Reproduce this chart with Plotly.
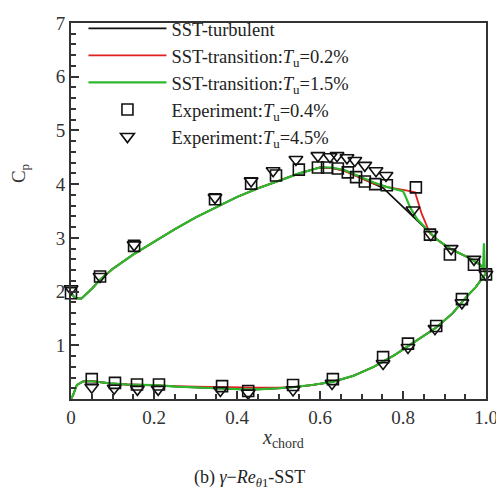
import plotly.graph_objects as go

# ---------------- data ----------------
# upper surface, SST-transition Tu=1.5% (green)
xu_green = [0, 0.01, 0.025, 0.05, 0.07, 0.1, 0.15, 0.2, 0.25, 0.3, 0.35, 0.4, 0.45, 0.5, 0.55,
            0.6, 0.63, 0.66, 0.7, 0.73, 0.76, 0.79, 0.8, 0.805, 0.817, 0.834, 0.858, 0.88,
            0.913, 0.94, 0.961, 0.986, 0.993, 0.995, 0.997, 1.0]
yu_green = [1.97, 1.88, 1.87, 2.05, 2.22, 2.42, 2.69, 2.93, 3.16, 3.38, 3.57, 3.76, 3.92, 4.06, 4.2,
            4.31, 4.31, 4.26, 4.13, 4.03, 3.95, 3.89, 3.87, 3.79, 3.57, 3.35, 3.15, 2.98,
            2.80, 2.70, 2.62, 2.50, 2.43, 2.90, 2.40, 2.35]
# upper surface, SST-transition Tu=0.2% (red)
xu_red = [0, 0.01, 0.025, 0.05, 0.07, 0.1, 0.15, 0.2, 0.25, 0.3, 0.35, 0.4, 0.45, 0.5, 0.55,
          0.6, 0.63, 0.66, 0.7, 0.73, 0.76, 0.79, 0.81, 0.829, 0.845, 0.865, 0.88,
          0.913, 0.94, 0.961, 0.986, 1.0]
yu_red = [1.97, 1.88, 1.87, 2.05, 2.22, 2.42, 2.69, 2.93, 3.16, 3.38, 3.57, 3.76, 3.92, 4.06, 4.2,
          4.31, 4.30, 4.24, 4.10, 4.01, 3.95, 3.90, 3.88, 3.85, 3.45, 3.08, 2.98,
          2.80, 2.70, 2.62, 2.50, 2.35]
# upper surface, SST-turbulent (black)
xu_black = [0, 0.01, 0.025, 0.05, 0.07, 0.1, 0.15, 0.2, 0.25, 0.3, 0.35, 0.4, 0.45, 0.5, 0.55,
            0.6, 0.63, 0.66, 0.7, 0.73, 0.752, 0.858, 0.88, 0.913, 0.94, 0.961, 0.986, 1.0]
yu_black = [1.97, 1.88, 1.87, 2.05, 2.22, 2.42, 2.69, 2.93, 3.16, 3.38, 3.57, 3.76, 3.92, 4.06, 4.2,
            4.31, 4.30, 4.25, 4.11, 4.02, 3.93, 3.15, 2.98, 2.80, 2.70, 2.62, 2.50, 2.35]

# lower surface
xl = [0, 0.005, 0.014, 0.03, 0.053, 0.094, 0.135, 0.2, 0.255, 0.3, 0.35, 0.415, 0.45, 0.5, 0.535,
      0.58, 0.63, 0.68, 0.73, 0.78, 0.83, 0.88, 0.92, 0.955, 0.975, 0.99, 1.0]
yl_green = [0.0, 0.07, 0.26, 0.33, 0.33, 0.29, 0.27, 0.26, 0.23, 0.21, 0.20, 0.18, 0.18, 0.20, 0.22,
            0.26, 0.32, 0.43, 0.60, 0.82, 1.07, 1.33, 1.60, 1.92, 2.08, 2.25, 2.34]
yl_red = [0.0, 0.07, 0.26, 0.33, 0.33, 0.29, 0.27, 0.26, 0.24, 0.23, 0.22, 0.22, 0.21, 0.21, 0.22,
          0.26, 0.32, 0.43, 0.60, 0.82, 1.07, 1.33, 1.60, 1.92, 2.08, 2.25, 2.34]
yl_black = yl_green

# experiment Tu=0.4% (squares)
exp04_x = [0.0, 0.07, 0.152, 0.347, 0.434, 0.494, 0.549, 0.595, 0.617, 0.643, 0.667, 0.687, 0.708,
           0.733, 0.761, 0.831, 0.865, 0.913, 0.971, 1.0,
           0.05, 0.106, 0.159, 0.212, 0.364, 0.427, 0.535, 0.631, 0.752, 0.812, 0.88, 0.942]
exp04_y = [1.97, 2.28, 2.85, 3.72, 4.01, 4.16, 4.27, 4.31, 4.31, 4.29, 4.22, 4.13, 4.05,
           4.00, 3.98, 3.94, 3.06, 2.69, 2.50, 2.32,
           0.37, 0.30, 0.27, 0.27, 0.24, 0.15, 0.26, 0.37, 0.78, 1.03, 1.36, 1.86]
# experiment Tu=4.5% (triangles)
exp45_x = [0.0, 0.07, 0.152, 0.347, 0.434, 0.487, 0.542, 0.595, 0.624, 0.641, 0.665, 0.684, 0.708,
           0.735, 0.759, 0.824, 0.867, 0.916, 0.971, 1.0,
           0.05, 0.104, 0.16, 0.21, 0.36, 0.427, 0.535, 0.629, 0.752, 0.812, 0.877, 0.942]
exp45_y = [2.05, 2.28, 2.87, 3.75, 4.06, 4.25, 4.46, 4.53, 4.51, 4.53, 4.49, 4.44, 4.35,
           4.25, 4.16, 3.52, 3.06, 2.80, 2.60, 2.32,
           0.22, 0.20, 0.18, 0.18, 0.16, 0.11, 0.17, 0.29, 0.66, 0.96, 1.31, 1.79]

x_tickvals = [0, 0.2, 0.4, 0.6, 0.8, 1.0]
x_ticktext = ["0", "0.2", "0.4", "0.6", "0.8", "1.0"]
y_tickvals = [1, 2, 3, 4, 5, 6, 7]
y_ticktext = ["1", "2", "3", "4", "5", "6", "7"]

FONT = "Liberation Serif"


def joined(xa, ya, xb, yb):
    return xa + [None] + xb, ya + [None] + yb


fig = go.Figure()
bx, by = joined(xu_black, yu_black, xl, yl_black)
rx, ry = joined(xu_red, yu_red, xl, yl_red)
gx, gy = joined(xu_green, yu_green, xl, yl_green)

fig.add_trace(go.Scatter(x=bx, y=by, mode="lines", name="SST-turbulent",
                         line=dict(color="#111111", width=1.8), connectgaps=False))
fig.add_trace(go.Scatter(x=rx, y=ry, mode="lines",
                         name="SST-transition:<i>T</i><sub>u</sub>=0.2%",
                         line=dict(color="#e02020", width=1.8), connectgaps=False))
fig.add_trace(go.Scatter(x=gx, y=gy, mode="lines",
                         name="SST-transition:<i>T</i><sub>u</sub>=1.5%",
                         line=dict(color="#2db82d", width=2.2), connectgaps=False))
fig.add_trace(go.Scatter(x=exp04_x, y=exp04_y, mode="markers",
                         name="Experiment:<i>T</i><sub>u</sub>=0.4%",
                         marker=dict(symbol="square-open", size=11, color="#111111",
                                     line=dict(width=1.6, color="#111111")),
                         cliponaxis=False))
fig.add_trace(go.Scatter(x=exp45_x, y=exp45_y, mode="markers",
                         name="Experiment:<i>T</i><sub>u</sub>=4.5%",
                         marker=dict(symbol="triangle-down-open", size=12, color="#111111",
                                     line=dict(width=1.6, color="#111111")),
                         cliponaxis=False))

fig.update_layout(
    width=496, height=496,
    margin=dict(l=71, r=10, t=19, b=97),
    paper_bgcolor="white", plot_bgcolor="white",
    font=dict(family=FONT, size=18, color="#222222"),
    showlegend=True,
    legend=dict(x=0.03, y=1.035, xanchor="left", yanchor="top",
                bgcolor="rgba(0,0,0,0)", itemwidth=78, tracegroupgap=0,
                font=dict(family=FONT, size=18.5, color="#222222")),
    xaxis=dict(range=[0, 1.0], showgrid=False, zeroline=False, automargin=False,
               ticklabeloverflow="allow",
               showline=True, linecolor="#333333", linewidth=2, mirror=True,
               ticks="inside", ticklen=8, tickwidth=1.5, tickcolor="#333333",
               tickvals=x_tickvals, ticktext=x_ticktext,
               minor=dict(dtick=0.05, tick0=0, ticks="inside", ticklen=5,
                          tickwidth=1.5, tickcolor="#333333"),
               tickfont=dict(family=FONT, size=19, color="#333333")),
    yaxis=dict(range=[0, 7], showgrid=False, zeroline=False, automargin=False,
               ticklabeloverflow="allow",
               showline=True, linecolor="#333333", linewidth=2, mirror=True,
               ticks="inside", ticklen=8, tickwidth=1.5, tickcolor="#333333",
               tickvals=y_tickvals, ticktext=y_ticktext,
               minor=dict(dtick=0.2, tick0=0, ticks="inside", ticklen=5,
                          tickwidth=1.5, tickcolor="#333333"),
               tickfont=dict(family=FONT, size=19, color="#333333")),
)

fig.add_annotation(text="<i>x</i><sub>chord</sub>", xref="paper", yref="paper",
                   x=0.51, y=-0.067, yanchor="top", showarrow=False,
                   font=dict(family=FONT, size=20, color="#333333"))
fig.add_annotation(text="(b) <i>γ</i>−<i>Re</i><sub><i>θ</i>1</sub>-SST", xref="paper", yref="paper",
                   x=0.43, y=-0.175, yanchor="top", showarrow=False,
                   font=dict(family=FONT, size=18, color="#222222"))
fig.add_annotation(text="C<sub>p</sub>", xref="paper", yref="paper",
                   x=-0.155, y=0.6, textangle=-90, showarrow=False,
                   font=dict(family=FONT, size=19, color="#333333"))

fig.write_html("out.html")
